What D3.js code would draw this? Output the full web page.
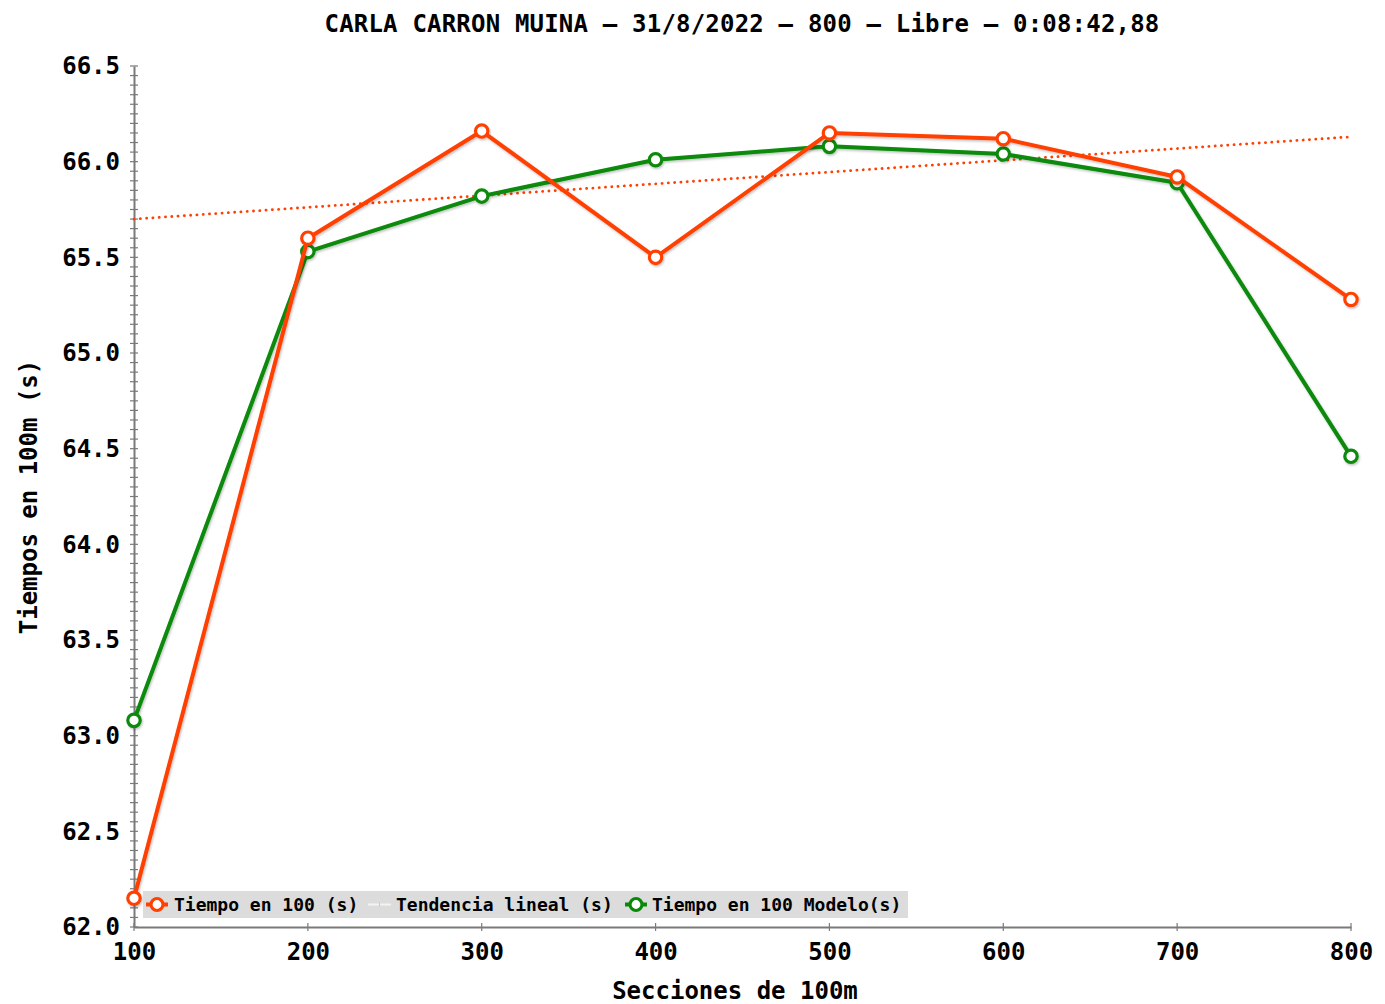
<!DOCTYPE html>
<html><head><meta charset="utf-8">
<script src="https://cdn.jsdelivr.net/npm/d3@7"></script>
<style>
html,body{margin:0;padding:0;background:#fff;}
text{font-family:"DejaVu Sans Mono",monospace;font-weight:bold;}
</style></head>
<body>
<svg id="chart" width="1385" height="1004"></svg>
<script>
const titleText = "CARLA CARRON MUINA \u2013 31/8/2022 \u2013 800 \u2013 Libre \u2013 0:08:42,88";
const sections = [100, 200, 300, 400, 500, 600, 700, 800];
const tiempo = [62.15, 65.60, 66.16, 65.50, 66.15, 66.12, 65.92, 65.28];
const modelo = [63.08, 65.53, 65.82, 66.01, 66.08, 66.04, 65.89, 64.46];
const trendX = [100, 800];
const trendY = [65.70, 66.13];
const yTicks = [62.0, 62.5, 63.0, 63.5, 64.0, 64.5, 65.0, 65.5, 66.0, 66.5];
const xTicks = [100, 200, 300, 400, 500, 600, 700, 800];
const legendLabels = ["Tiempo en 100 (s)", "Tendencia lineal (s)", "Tiempo en 100 Modelo(s)"];

const orange = "#ff4000", green = "#088a08", axisCol = "#7a7a7a";
const svg = d3.select("#chart");
const x = d3.scaleLinear().domain([100, 800]).range([134, 1351]);
const y = d3.scaleLinear().domain([62, 66.5]).range([927, 66]);

const defs = svg.append("defs");
const f = defs.append("filter").attr("id","sh").attr("x","-10%").attr("y","-10%").attr("width","120%").attr("height","120%");
f.append("feDropShadow").attr("dx",1).attr("dy",1.5).attr("stdDeviation",1.2).attr("flood-color","#000").attr("flood-opacity",0.25);

// title
svg.append("text").attr("x", 742).attr("y", 32).attr("text-anchor","middle")
  .attr("font-size", 24).attr("letter-spacing", 0.2).attr("fill","#000").text(titleText);

// y axis
const yAxis = d3.axisLeft(y).tickValues(yTicks).tickFormat(d3.format(".1f")).tickSize(0).tickPadding(14);
const gy = svg.append("g").attr("transform","translate(134,0)").call(yAxis);
gy.select(".domain").attr("stroke", axisCol).attr("stroke-width", 2);
gy.selectAll("text").attr("font-size", 24).attr("fill","#000").attr("font-family",'"DejaVu Sans Mono",monospace');
// minor ticks
const minor = d3.range(0, 91).map(i => 62 + i * 0.05);
svg.append("g").selectAll("line").data(minor).join("line")
  .attr("x1", 130).attr("x2", 138).attr("y1", d => y(d)).attr("y2", d => y(d))
  .attr("stroke", axisCol).attr("stroke-width", 1.2);

// x axis
const xAxis = d3.axisBottom(x).tickValues(xTicks).tickFormat(d3.format("d")).tickSize(0).tickPadding(16);
const gx = svg.append("g").attr("transform","translate(0,927)").call(xAxis);
gx.select(".domain").attr("stroke", axisCol).attr("stroke-width", 2);
gx.selectAll("text").attr("font-size", 24).attr("fill","#000").attr("font-family",'"DejaVu Sans Mono",monospace');
svg.append("g").selectAll("line").data(xTicks).join("line")
  .attr("x1", d => x(d)).attr("x2", d => x(d)).attr("y1", 923).attr("y2", 931)
  .attr("stroke", axisCol).attr("stroke-width", 1.2);

// axis labels
svg.append("text").attr("x", 735).attr("y", 999).attr("text-anchor","middle")
  .attr("font-size", 24).attr("fill","#000").text("Secciones de 100m");
svg.append("text").attr("transform","translate(37,497) rotate(-90)").attr("text-anchor","middle")
  .attr("font-size", 24).attr("fill","#000").text("Tiempos en 100m (s)");

// trend line
svg.append("line")
  .attr("x1", x(trendX[0])).attr("y1", y(trendY[0]))
  .attr("x2", x(trendX[1])).attr("y2", y(trendY[1]))
  .attr("stroke", orange).attr("stroke-width", 2.8)
  .attr("stroke-dasharray", "0.1 6.2").attr("stroke-linecap","round");

const line = d3.line().x((d,i) => x(sections[i])).y(d => y(d));
function series(vals, col) {
  const g = svg.append("g").attr("filter","url(#sh)");
  g.append("path").datum(vals).attr("d", line).attr("fill","none")
    .attr("stroke", col).attr("stroke-width", 4).attr("stroke-linejoin","round");
  g.selectAll("circle").data(vals).join("circle")
    .attr("cx", (d,i) => x(sections[i])).attr("cy", d => y(d)).attr("r", 6.2)
    .attr("fill", "#fff").attr("stroke", col).attr("stroke-width", 3.2);
}
series(modelo, green);
series(tiempo, orange);

// legend
const lg = svg.append("g");
lg.append("rect").attr("x", 143).attr("y", 891).attr("width", 765).attr("height", 27).attr("fill", "#dcdcdc");
const ly = 904.5;
// item 1
lg.append("line").attr("x1",146).attr("x2",168).attr("y1",ly).attr("y2",ly).attr("stroke",orange).attr("stroke-width",4);
lg.append("circle").attr("cx",157).attr("cy",ly).attr("r",6).attr("fill","#fff").attr("stroke",orange).attr("stroke-width",3.2);
lg.append("text").attr("x",174).attr("y",ly+6.5).attr("font-size",18).attr("fill","#000").text(legendLabels[0]);
// item 2
lg.append("line").attr("x1",368).attr("x2",391).attr("y1",ly).attr("y2",ly).attr("stroke","#f4f4f4").attr("stroke-width",2);
lg.append("line").attr("x1",379.5).attr("x2",379.5).attr("y1",ly-2).attr("y2",ly+2).attr("stroke","#c8c8c8").attr("stroke-width",1);
lg.append("text").attr("x",396).attr("y",ly+6.5).attr("font-size",18).attr("fill","#000").text(legendLabels[1]);
// item 3
lg.append("line").attr("x1",625).attr("x2",647).attr("y1",ly).attr("y2",ly).attr("stroke",green).attr("stroke-width",4);
lg.append("circle").attr("cx",636).attr("cy",ly).attr("r",6).attr("fill","#fff").attr("stroke",green).attr("stroke-width",3.2);
lg.append("text").attr("x",652).attr("y",ly+6.5).attr("font-size",18).attr("fill","#000").text(legendLabels[2]);
</script>
</body></html>
